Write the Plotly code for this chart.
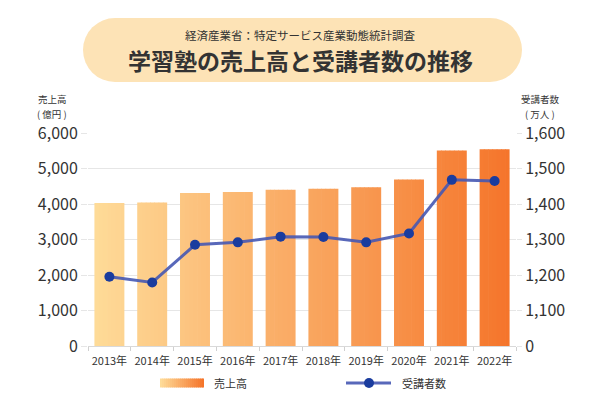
import plotly.graph_objects as go

# ---- data ----
years = ["2013年", "2014年", "2015年", "2016年", "2017年", "2018年", "2019年", "2020年", "2021年", "2022年"]
sales = [4030, 4040, 4310, 4340, 4400, 4430, 4470, 4690, 5510, 5540]          # 億円
students = [1195, 1179, 1285, 1292, 1308, 1307, 1292, 1317, 1468, 1465]        # 万人
left_ticks = [0, 1000, 2000, 3000, 4000, 5000, 6000]
left_tick_text = ["0", "1,000", "2,000", "3,000", "4,000", "5,000", "6,000"]
right_ticks = [1000, 1100, 1200, 1300, 1400, 1500, 1600]
right_tick_text = ["0", "1,100", "1,200", "1,300", "1,400", "1,500", "1,600"]

# ---- geometry / style ----
W, H = 600, 400
L, R, T, B = 88, 84, 133, 54
PW, PH = W - L - R, H - T - B
FONT = "Noto Sans CJK JP"
TXT = "#333333"
GRID = "#e6e6e6"


def px(x):
    return (x - L) / PW


def py(y):
    return (H - B - y) / PH


C0 = (254, 219, 152)
C1 = (245, 117, 43)


def grad(t):
    t = max(0.0, min(1.0, t))
    r, g, b = (round(C0[k] + (C1[k] - C0[k]) * t) for k in range(3))
    return f"rgb({r},{g},{b})"


n = len(years)
cat_w = PW / n
BAR_W = 0.7
NS = 7
sw = BAR_W / NS
GX0, GX1 = 95, 509

fig = go.Figure()

for j in range(NS):
    off = -BAR_W / 2 + j * sw
    w = sw + (0.015 if j < NS - 1 else 0)
    cols = []
    for i in range(n):
        cx = L + (i + 0.5 + off + sw / 2) * cat_w
        cols.append(grad((cx - GX0) / (GX1 - GX0)))
    fig.add_trace(go.Bar(
        x=years, y=sales, width=[w] * n, offset=[off] * n,
        marker=dict(color=cols, line=dict(width=0)),
        showlegend=False, hoverinfo="skip",
    ))

fig.add_trace(go.Scatter(
    x=years, y=students, yaxis="y2", mode="lines+markers",
    line=dict(color="rgba(70,88,178,0.9)", width=3),
    marker=dict(size=10, color="#1a3c9e"),
    showlegend=False,
))

shapes = []
# title pill
PC = "#fde3b6"
x0p, x1p, y0p, y1p = 83, 522, 18, 82
rad = (y1p - y0p) / 2
shapes.append(dict(type="circle", xref="paper", yref="paper", x0=px(x0p), x1=px(x0p + 2 * rad),
                   y0=py(y1p), y1=py(y0p), fillcolor=PC, line=dict(width=0), layer="below"))
shapes.append(dict(type="circle", xref="paper", yref="paper", x0=px(x1p - 2 * rad), x1=px(x1p),
                   y0=py(y1p), y1=py(y0p), fillcolor=PC, line=dict(width=0), layer="below"))
shapes.append(dict(type="rect", xref="paper", yref="paper", x0=px(x0p + rad), x1=px(x1p - rad),
                   y0=py(y1p), y1=py(y0p), fillcolor=PC, line=dict(width=0), layer="below"))

# legend: gradient swatch
lx0, lx1, ly0, ly1 = 160, 204, 378.5, 387.5
NSW = 22
for k in range(NSW):
    a = lx0 + (lx1 - lx0) * k / NSW
    b = lx0 + (lx1 - lx0) * (k + 1) / NSW + (0.6 if k < NSW - 1 else 0)
    shapes.append(dict(type="rect", xref="paper", yref="paper", x0=px(a), x1=px(b),
                       y0=py(ly1), y1=py(ly0), fillcolor=grad(k / (NSW - 1)), line=dict(width=0)))
# legend: line + marker
shapes.append(dict(type="line", xref="paper", yref="paper", x0=px(346), x1=px(391),
                   y0=py(383), y1=py(383), line=dict(color="rgba(70,88,178,0.9)", width=3)))
shapes.append(dict(type="circle", xref="paper", yref="paper", x0=px(364), x1=px(374),
                   y0=py(388), y1=py(378), fillcolor="#1a3c9e", line=dict(width=0)))

ann = []


def add_text(x, y, text, size, xanchor="center", bold=False):
    ann.append(dict(x=px(x), y=py(y), xref="paper", yref="paper", text=(f"<b>{text}</b>" if bold else text),
                    showarrow=False, xanchor=xanchor, yanchor="middle",
                    font=dict(family=FONT, size=size, color=TXT)))


add_text(300, 35, "経済産業省：特定サービス産業動態統計調査", 11.5)
add_text(300, 60, "学習塾の売上高と受講者数の推移", 23, bold=True)
add_text(52, 99, "売上高", 9.5)
add_text(52, 114, "( 億円 )", 9.5)
add_text(540, 99, "受講者数", 9.5)
add_text(540, 114, "( 万人 )", 9.5)
add_text(212, 383, "売上高", 11, xanchor="left")
add_text(400, 383, "受講者数", 11, xanchor="left")

fig.update_layout(
    width=W, height=H,
    margin=dict(l=L, r=R, t=T, b=B, pad=0),
    paper_bgcolor="white", plot_bgcolor="white",
    barmode="overlay", bargap=0.3,
    font=dict(family=FONT, color=TXT),
    shapes=shapes, annotations=ann,
    xaxis=dict(type="category", range=[-0.5, n - 0.5], tickson="boundaries",
               ticks="outside", ticklen=4, tickcolor="#d0d0d0", tickangle=0,
               ticklabelstandoff=5,
               showline=True, linecolor="#d9d9d9", linewidth=1,
               showgrid=False, tickfont=dict(size=11, color=TXT, family=FONT)),
    yaxis=dict(range=[0, 6000], tickvals=left_ticks, ticktext=left_tick_text,
               showgrid=True, gridcolor=GRID, gridwidth=1, zeroline=False,
               ticks="outside", ticklen=6, tickcolor=GRID,
               tickfont=dict(size=16, color=TXT, family=FONT)),
    yaxis2=dict(range=[1000, 1600], tickvals=right_ticks, ticktext=right_tick_text,
                overlaying="y", side="right", showgrid=False, zeroline=False,
                ticks="outside", ticklen=5, tickcolor=GRID,
                tickfont=dict(size=16, color=TXT, family=FONT)),
)

fig.write_html("out.html")
